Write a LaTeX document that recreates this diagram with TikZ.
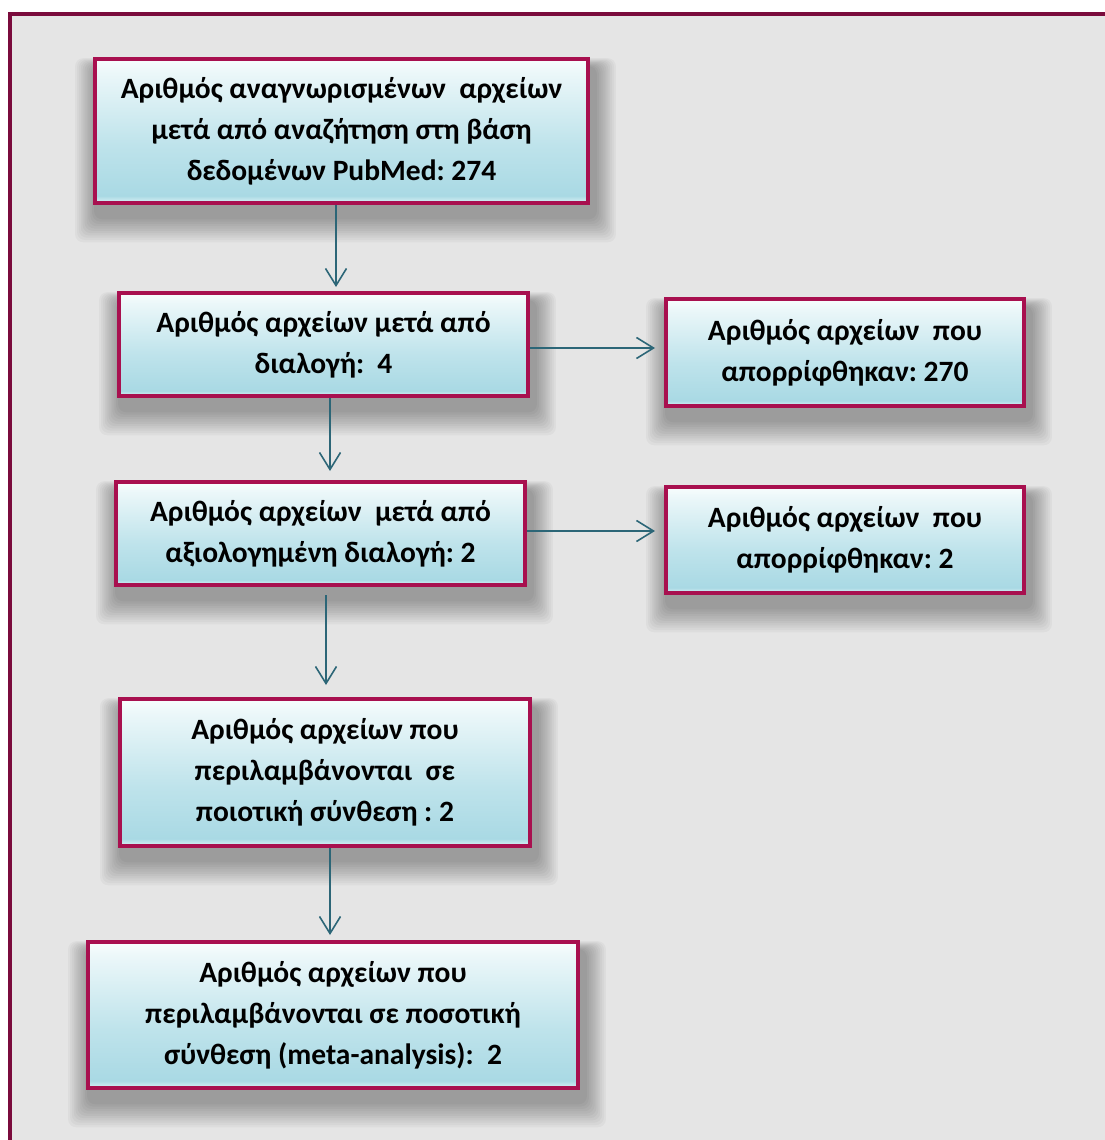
\documentclass[tikz,border=0pt]{standalone}
\usepackage{fontspec}
\setmainfont{Carlito}
\usetikzlibrary{arrows.meta,backgrounds,calc}
\definecolor{framec}{HTML}{7A0B3C}
\definecolor{boxline}{HTML}{A8104F}
\definecolor{arrowc}{HTML}{2C6677}
\definecolor{bgc}{HTML}{E5E5E5}
\definecolor{shA}{HTML}{DDF2F6}
\definecolor{shB}{HTML}{A9D9E4}
\definecolor{shC}{HTML}{BEE3EB}
\definecolor{shD}{HTML}{EBF7F9}
\definecolor{shE}{HTML}{F8FDFD}
\pgfdeclareverticalshading{boxshade}{100bp}{color(0bp)=(shA); color(25bp)=(shA); color(27.5bp)=(shB); color(45bp)=(shC); color(70bp)=(shD); color(75bp)=(shE); color(100bp)=(shE)}
\frenchspacing
\tikzset{
  flowbox/.style={draw=boxline, line width=4pt, shading=boxshade, align=center,
    font=\fontsize{29.5}{41}\selectfont\bfseries\frenchspacing, inner sep=0pt, text=black},
  arr/.style={draw=arrowc, line width=1.6pt, -{Straight Barb[length=17pt,width=21pt]}},
  shadowpiece/.style={fill=black, opacity=0.032, rounded corners=8pt}
}
\newcommand\boxshadow[1]{%
  \foreach \k in {1,...,11}{%
    \fill[shadowpiece] ($(#1.north west)+(3-\k*1.9,10-\k*0.8)$) rectangle ($(#1.south east)+(5+\k*1.9,12+\k*2.3)$);
  }%
}
\begin{document}
\begin{tikzpicture}[x=1pt,y=-1pt]
\useasboundingbox (0,0) rectangle (1105,1140);
\clip (0,0) rectangle (1105,1140);

\node[flowbox, minimum width=493pt, minimum height=144pt] (b1) at (341.5,131)
  {Αριθμός αναγνωρισμένων~ αρχείων\\μετά από αναζήτηση στη βάση\\δεδομένων PubMed: 274};
\node[flowbox, minimum width=409pt, minimum height=103pt] (b2) at (323.5,344.5)
  {Αριθμός αρχείων μετά από\\διαλογή:~ 4};
\node[flowbox, minimum width=358pt, minimum height=107pt] (b3) at (845,352.5)
  {Αριθμός αρχείων~ που\\απορρίφθηκαν: 270};
\node[flowbox, minimum width=409pt, minimum height=103pt] (b4) at (320.5,533.5)
  {Αριθμός αρχείων~ μετά από\\αξιολογημένη διαλογή: 2};
\node[flowbox, minimum width=358pt, minimum height=106pt] (b5) at (845,540)
  {Αριθμός αρχείων~ που\\απορρίφθηκαν: 2};
\node[flowbox, minimum width=410pt, minimum height=147pt] (b6) at (325,772.5)
  {Αριθμός αρχείων που\\περιλαμβάνονται~ σε\\ποιοτική σύνθεση : 2};
\node[flowbox, minimum width=490pt, minimum height=146pt] (b7) at (333,1015)
  {Αριθμός αρχείων που\\περιλαμβάνονται σε ποσοτική\\σύνθεση (meta-analysis):~ 2};

\begin{scope}[on background layer]
  \fill[white] (0,0) rectangle (1105,1140);
  \draw[framec, line width=4.5pt, fill=bgc] (10,14) rectangle (1130,1170);
  \boxshadow{b1}\boxshadow{b2}\boxshadow{b3}\boxshadow{b4}\boxshadow{b5}\boxshadow{b6}\boxshadow{b7}
\end{scope}

\draw[arr] (b1.south -| 336,0) -- ($(b2.north -| 336,0)+(0,-4)$);
\draw[arr] (b2.south -| 330,0) -- ($(b4.north -| 330,0)+(0,-9)$);
\draw[arr] (b2.east |- 0,348) -- ($(b3.west |- 0,348)+(-9,0)$);
\draw[arr] (b4.east |- 0,531) -- ($(b5.west |- 0,531)+(-9,0)$);
\draw[arr] ($(b4.south -| 326,0)+(0,8)$) -- ($(b6.north -| 326,0)+(0,-12)$);
\draw[arr] (b6.south -| 330,0) -- ($(b7.north -| 330,0)+(0,-5)$);
\end{tikzpicture}
\end{document}
